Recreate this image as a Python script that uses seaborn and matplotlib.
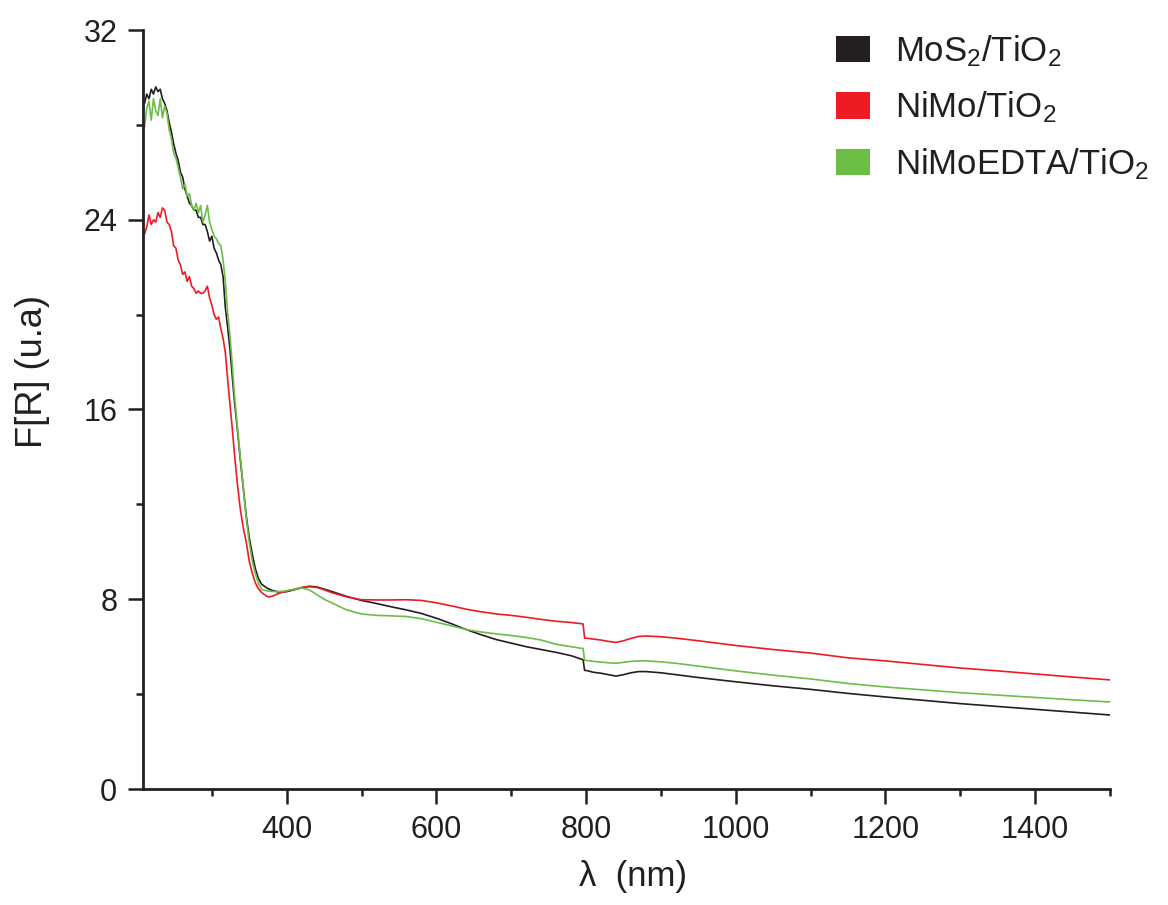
import numpy as np
import pandas as pd
import matplotlib
matplotlib.use("Agg")
import matplotlib.pyplot as plt
from matplotlib.patches import Patch
from matplotlib.ticker import MultipleLocator
import seaborn as sns

# ---------------- data ----------------
wavelength = [
    210, 213, 216, 219, 222, 225, 228, 231, 234, 237, 240, 243, 246, 249, 252,
    255, 258, 261, 264, 267, 270, 273, 276, 279, 282, 285, 288, 291, 294, 297,
    300, 303, 306, 309, 312, 315, 318, 321, 324, 327, 330,
    334, 338, 342, 346, 350, 354, 358, 362, 366, 370,
    375, 380, 390, 400, 410, 420, 430, 440, 450, 460,
    480, 500, 520, 540, 560, 580, 600, 620, 640, 660,
    680, 700, 720, 740, 760, 780, 796, 798, 800, 810,
    820, 830, 840, 850, 860, 870, 880, 900, 920, 950,
    1000, 1050, 1100, 1150, 1200, 1250, 1300, 1350, 1400, 1450,
    1500,
]

mos2_tio2 = [
    28.9, 29.3, 29.1, 29.5, 29.3, 29.6, 29.4, 29.5, 29.1, 28.9, 28.6, 28.1, 27.7, 27.2, 26.8,
    26.5, 26.0, 25.8, 25.3, 25.0, 24.7, 24.6, 24.4, 24.4, 24.1, 24.1, 23.8, 23.8, 23.5, 23.1,
    23.3, 22.8, 22.6, 22.3, 22.1, 21.6, 20.3, 19.5, 18.6, 17.5, 16.4,
    15.2, 13.9, 12.7, 11.5, 10.6, 9.9, 9.3, 8.9, 8.65, 8.55,
    8.45, 8.38, 8.30, 8.32, 8.40, 8.48, 8.55, 8.52, 8.43, 8.33,
    8.12, 7.95, 7.82, 7.68, 7.55, 7.40, 7.20, 6.97, 6.72, 6.50,
    6.30, 6.15, 6.00, 5.88, 5.76, 5.62, 5.45, 5.00, 5.00, 4.92,
    4.88, 4.82, 4.76, 4.82, 4.90, 4.95, 4.95, 4.90, 4.82, 4.70,
    4.52, 4.35, 4.20, 4.03, 3.88, 3.74, 3.60, 3.48, 3.36, 3.24,
    3.12,
]

nimo_tio2 = [
    23.4, 23.7, 24.2, 23.8, 24.0, 23.9, 24.3, 24.1, 24.5, 24.4, 23.9, 23.8, 23.5, 22.9, 22.8,
    22.3, 22.1, 21.7, 21.8, 21.4, 21.6, 21.2, 21.1, 20.9, 21.0, 20.9, 20.9, 21.0, 21.2, 20.7,
    20.4, 20.0, 19.8, 19.9, 19.4, 19.0, 18.4, 17.3, 16.3, 15.3, 14.2,
    12.9, 11.8, 11.0, 10.4, 9.6, 9.1, 8.7, 8.45, 8.30, 8.20,
    8.10, 8.12, 8.25, 8.35, 8.42, 8.50, 8.53, 8.50, 8.40, 8.28,
    8.10, 7.98, 7.97, 7.97, 7.98, 7.95, 7.85, 7.72, 7.58, 7.47,
    7.38, 7.32, 7.24, 7.15, 7.07, 7.02, 6.96, 6.36, 6.36, 6.32,
    6.28, 6.22, 6.18, 6.25, 6.35, 6.43, 6.45, 6.42, 6.36, 6.25,
    6.05, 5.88, 5.73, 5.53, 5.40, 5.25, 5.10, 4.98, 4.85, 4.72,
    4.60,
]

nimoedta_tio2 = [
    27.9, 28.7, 29.0, 28.2, 29.1, 28.6, 28.4, 29.1, 28.3, 28.8, 28.5, 27.8, 27.4, 26.8, 26.6,
    26.2, 25.8, 25.3, 25.5, 25.0, 25.1, 24.6, 24.4, 24.7, 24.3, 24.6, 23.9, 24.2, 24.6, 23.9,
    23.6, 23.3, 23.2, 23.0, 22.9, 22.3, 21.4, 20.1, 19.2, 18.0, 16.7,
    15.3, 14.0, 12.7, 11.4, 10.4, 9.6, 9.1, 8.7, 8.42, 8.38,
    8.35, 8.33, 8.32, 8.36, 8.42, 8.47, 8.40, 8.20, 8.00, 7.85,
    7.55, 7.38, 7.32, 7.30, 7.27, 7.18, 7.03, 6.88, 6.72, 6.62,
    6.54, 6.47, 6.39, 6.28, 6.10, 6.00, 5.92, 5.42, 5.42, 5.38,
    5.35, 5.32, 5.30, 5.34, 5.38, 5.40, 5.40, 5.36, 5.30, 5.18,
    4.98, 4.80, 4.64, 4.45, 4.30, 4.18, 4.06, 3.96, 3.86, 3.76,
    3.67,
]

series_labels = [r"MoS$_2$/TiO$_2$", r"NiMo/TiO$_2$", r"NiMoEDTA/TiO$_2$"]
series_colors = ["#231f20", "#ed1c24", "#6cbd45"]
y_ticks = [0, 8, 16, 24, 32]
x_ticks = [400, 600, 800, 1000, 1200, 1400]

# ---------------- style ----------------
sns.set_style("ticks")
plt.rcParams["font.family"] = ["Liberation Sans", "DejaVu Sans"]
plt.rcParams["mathtext.fontset"] = "custom"
plt.rcParams["mathtext.rm"] = "Liberation Sans"
plt.rcParams["mathtext.it"] = "Liberation Sans:italic"
plt.rcParams["mathtext.bf"] = "Liberation Sans:bold"

frames = []
for lab, vals in zip(series_labels, [mos2_tio2, nimo_tio2, nimoedta_tio2]):
    frames.append(pd.DataFrame({"wl": wavelength, "F": vals, "sample": lab}))
df = pd.concat(frames, ignore_index=True)

fig = plt.figure(figsize=(11.68, 9.05), dpi=100)
ax = fig.add_axes([143 / 1168, 1 - 789 / 905, (1110 - 143) / 1168, (789 - 30) / 905])

sns.lineplot(data=df, x="wl", y="F", hue="sample", hue_order=series_labels,
             palette=series_colors, estimator=None, linewidth=1.2,
             legend=False, ax=ax)

ax.set_xlim(208, 1500)
ax.set_ylim(0, 32)
ax.set_xticks(x_ticks)
ax.set_yticks(y_ticks)
ax.xaxis.set_minor_locator(MultipleLocator(100))
ax.yaxis.set_minor_locator(MultipleLocator(4))

for side in ["top", "right"]:
    ax.spines[side].set_visible(False)
for side in ["left", "bottom"]:
    ax.spines[side].set_linewidth(2.0)
    ax.spines[side].set_color("#231f20")

ax.tick_params(axis="both", which="major", direction="out", length=10.5,
               width=1.8, colors="#231f20", labelsize=22, pad=8)
ax.tick_params(axis="both", which="minor", direction="out", length=5,
               width=1.8, colors="#231f20")

ax.set_xlabel("λ  (nm)", fontsize=25, color="#231f20")
ax.xaxis.set_label_coords((633 - 143) / 967, -(860 - 789) / 759)
ax.set_ylabel("F[R] (u.a)", fontsize=26, color="#231f20")
ax.yaxis.set_label_coords((50 - 143) / 967, (789 - 372) / 759)

handles = [Patch(facecolor=c, edgecolor="none") for c in series_colors]
fig.legend(handles, series_labels, loc="upper left",
           bbox_to_anchor=(836 / 1168, 1 - 33 / 905), bbox_transform=fig.transFigure,
           frameon=False, fontsize=25, handlelength=0.98, handleheight=0.78,
           handletextpad=0.72, labelspacing=0.6, borderpad=0, borderaxespad=0,
           labelcolor="#231f20")

fig.savefig("out.png", dpi=100)
